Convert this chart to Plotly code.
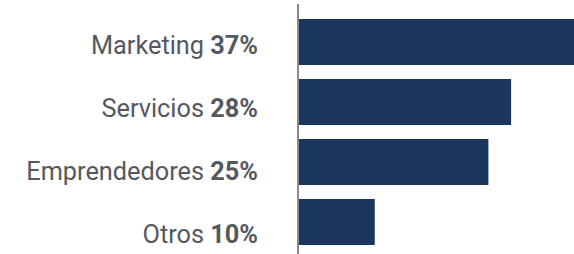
import plotly.graph_objects as go

categories = ["Marketing", "Servicios", "Emprendedores", "Otros"]
values = [37, 28, 25, 10]
tick_labels = [f"{c} <b>{v}%</b>" for c, v in zip(categories, values)]

fig = go.Figure()
fig.add_trace(go.Bar(
    x=values, y=categories, orientation="h",
    marker=dict(color="#1b365d", line=dict(width=0)),
    width=0.77, hoverinfo="skip",
))
# invisible anchor trace for the label axis
fig.add_trace(go.Scatter(
    x=[0] * len(categories), y=list(range(len(categories))), yaxis="y2",
    mode="markers", marker=dict(opacity=0), hoverinfo="skip",
))
fig.update_layout(
    width=574, height=254,
    margin=dict(l=299, r=0, t=4, b=0),
    paper_bgcolor="white", plot_bgcolor="white",
    showlegend=False,
    font=dict(family="Roboto", size=25.3, color="#54595f"),
    yaxis2=dict(
        overlaying="y", side="left", range=[3.312, -0.656],
        tickvals=list(range(len(categories))), ticktext=tick_labels,
        showline=False, showgrid=False, zeroline=False, ticks="",
        ticklabelstandoff=40, automargin=False, fixedrange=True,
    ),
)
fig.update_xaxes(range=[0, 36.3], visible=False, fixedrange=True)
fig.update_yaxes(
    selector=dict(overlaying=None),
    type="category", categoryarray=categories,
    range=[3.533, -0.633], showticklabels=False,
    showline=True, linecolor="#8a8a8a", linewidth=1.5,
    showgrid=False, zeroline=False, ticks="",
    automargin=False, fixedrange=True,
)
fig.write_html("out.html", config={"displayModeBar": False},
               post_script="document.body.style.margin='0';document.body.style.overflow='hidden';")
